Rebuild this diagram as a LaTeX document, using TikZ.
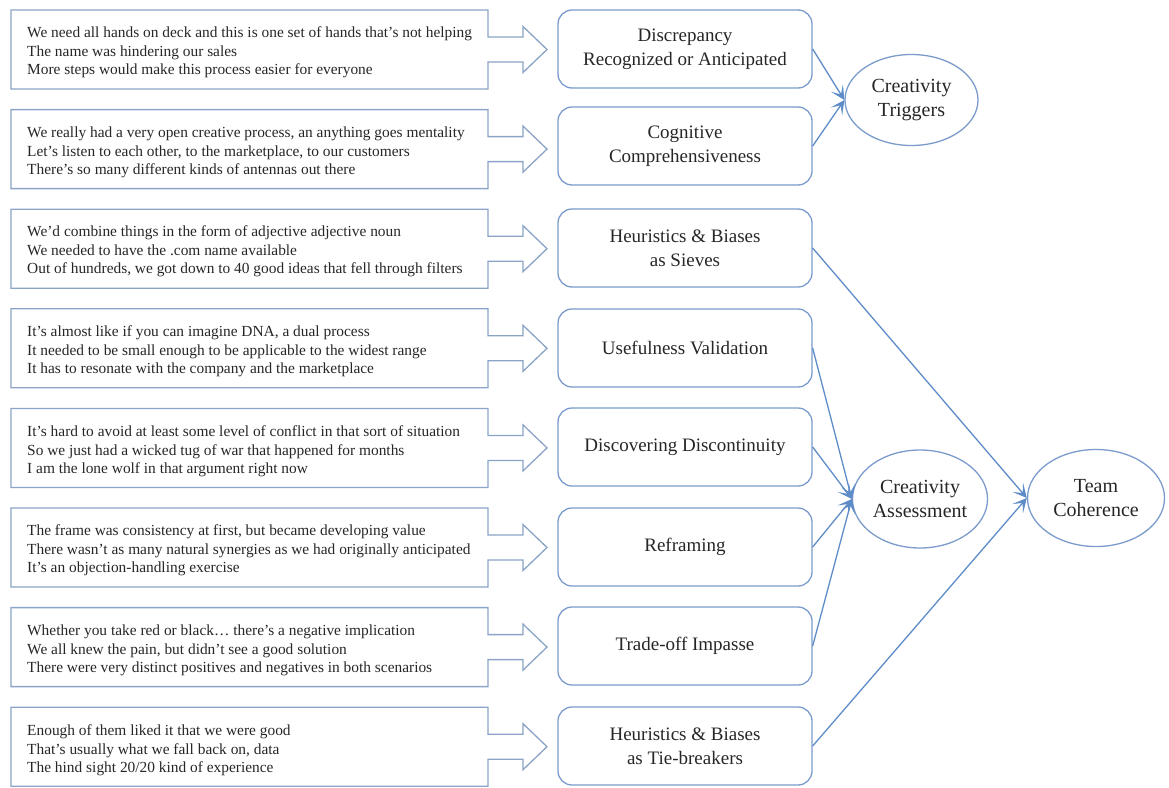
\documentclass[tikz,border=0pt]{standalone}
\usepackage{fontspec}
\setmainfont{Liberation Serif}
\usetikzlibrary{shapes.geometric,arrows.meta}
\definecolor{inkc}{HTML}{262626}
\definecolor{quotec}{HTML}{8AA3C6}
\definecolor{boxc}{HTML}{7A9BCB}
\definecolor{linkc}{HTML}{5E8CC8}

\begin{document}
\begin{tikzpicture}[x=1pt,y=-1pt,
  quote/.style={anchor=west,align=left,inner sep=0pt,text=inkc,
    font=\fontsize{15.4}{18.5}\selectfont},
  stage/.style={draw=boxc,line width=1.3pt,rounded corners=14pt,
    minimum width=254pt,minimum height=78pt,align=center,text=inkc,
    font=\fontsize{19}{24}\selectfont},
  construct/.style={draw=boxc,line width=1.3pt,ellipse,inner sep=0pt,
    align=center,text=inkc,font=\fontsize{20}{24}\selectfont},
  link/.style={draw=linkc,line width=1.3pt,
    -{Stealth[length=14pt,width=14pt,inset=7.5pt]}}]
  \useasboundingbox (0,0) rectangle (1169,787);
  % callout box with its hollow arrow, #1 = top edge
  \def\callout#1{%
    \draw[quotec,line width=1.3pt,line join=miter]
      (11,#1) -- (488,#1) -- (488,#1+27) -- (523,#1+27) -- (523,#1+16.5)
      -- (547,#1+39.5) -- (523,#1+62.5) -- (523,#1+52) -- (488,#1+52)
      -- (488,#1+79) -- (11,#1+79) -- cycle;}
  % quotes
  \callout{10}
  \node[quote] (q1) at (27,52.5) {We need all hands on deck and this is one set of hands that’s not helping\\
    The name was hindering our sales\\More steps would make this process easier for everyone};
  \callout{109.6}
  \node[quote] (q2) at (27,152.5) {We really had a very open creative process, an anything goes mentality\\
    Let’s listen to each other, to the marketplace, to our customers\\There’s so many different kinds of antennas out there};
  \callout{209.2}
  \node[quote] (q3) at (27,251.5) {We’d combine things in the form of adjective adjective noun\\
    We needed to have the .com name available\\Out of hundreds, we got down to 40 good ideas that fell through filters};
  \callout{308.8}
  \node[quote] (q4) at (27,351.5) {It’s almost like if you can imagine DNA, a dual process\\
    It needed to be small enough to be applicable to the widest range\\It has to resonate with the company and the marketplace};
  \callout{408.4}
  \node[quote] (q5) at (27,451.5) {It’s hard to avoid at least some level of conflict in that sort of situation\\
    So we just had a wicked tug of war that happened for months\\I am the lone wolf in that argument right now};
  \callout{508}
  \node[quote] (q6) at (27,550.5) {The frame was consistency at first, but became developing value\\
    There wasn’t as many natural synergies as we had originally anticipated\\It’s an objection-handling exercise};
  \callout{607.6}
  \node[quote] (q7) at (27,650.5) {Whether you take red or black\ldots\ there’s a negative implication\\
    We all knew the pain, but didn’t see a good solution\\There were very distinct positives and negatives in both scenarios};
  \callout{707.2}
  \node[quote] (q8) at (27,750.5) {Enough of them liked it that we were good\\
    That’s usually what we fall back on, data\\The hind sight 20/20 kind of experience};
  % stages
  \node[stage] (b1) at (685,49) {Discrepancy\\Recognized or Anticipated};
  \node[stage] (b2) at (685,146) {Cognitive\\Comprehensiveness};
  \node[stage] (b3) at (685,248) {Heuristics \& Biases\\as Sieves};
  \node[stage] (b4) at (685,348) {Usefulness Validation};
  \node[stage] (b5) at (685,447) {Discovering Discontinuity};
  \node[stage] (b6) at (685,547) {Reframing};
  \node[stage] (b7) at (685,646) {Trade-off Impasse};
  \node[stage] (b8) at (685,746) {Heuristics \& Biases\\as Tie-breakers};
  % constructs
  \node[construct,minimum width=133pt,minimum height=91pt] (trig) at (911.5,100) {Creativity\\Triggers};
  \node[construct,minimum width=135pt,minimum height=98pt] (assess) at (920,499) {Creativity\\Assessment};
  \node[construct,minimum width=137pt,minimum height=97pt] (team) at (1096,498) {Team\\Coherence};
  % links
  \draw[link] (b1.east) -- (trig.west);
  \draw[link] (b2.east) -- (trig.west);
  \draw[link] (b3.east) -- (team.west);
  \draw[link] (b4.east) -- (assess.west);
  \draw[link] (b5.east) -- (assess.west);
  \draw[link] (b6.east) -- (assess.west);
  \draw[link] (b7.east) -- (assess.west);
  \draw[link] (b8.east) -- (team.west);
\end{tikzpicture}
\end{document}
